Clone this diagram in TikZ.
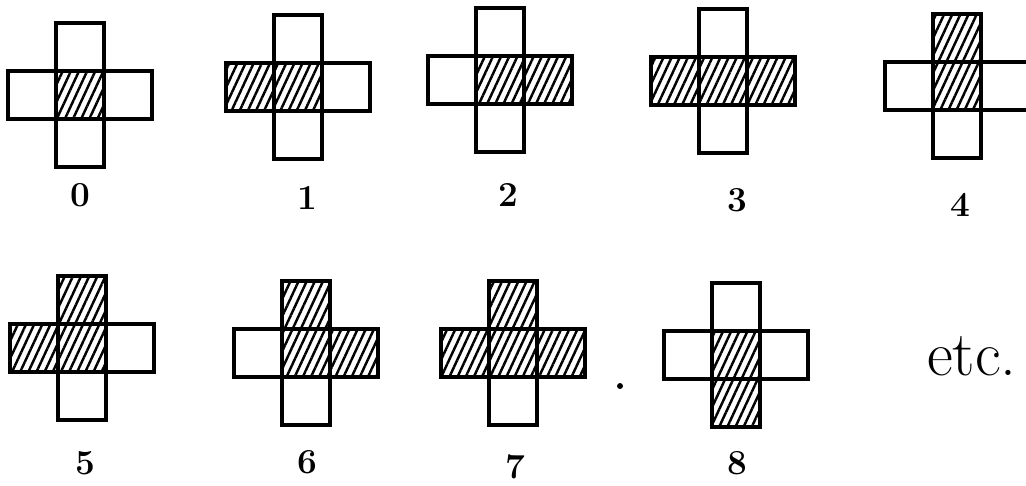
\documentclass[tikz,border=0pt]{standalone}
\usepackage{tikz}
\usetikzlibrary{positioning,patterns.meta}

\tikzset{
  cell/.style={draw, line width=1.9pt, minimum size=0.96cm, inner sep=0pt, outer sep=0pt},
  hatch/.style={pattern={Lines[angle=65, distance=4.2pt, line width=1.4pt]}},
  bare/.style={},
  digit/.style={font=\fontsize{20}{22}\selectfont\bfseries},
}

% one plus of five cells: name, x, y, left, right, up, down
\newcommand{\crossfig}[7]{%
  \node[cell, hatch] (#1c) at (#2,#3) {};          % middle cell
  \node[cell, #4, left=0pt of #1c] (#1l) {};      % left cell
  \node[cell, #5, right=0pt of #1c] (#1r) {};     % right cell
  \node[cell, #6, above=0pt of #1c] (#1u) {};     % upper cell
  \node[cell, #7, below=0pt of #1c] (#1d) {};     % lower cell
}

\begin{document}
\begin{tikzpicture}[x=0.02cm, y=-0.02cm]

        % Fix page to the picture size
        \useasboundingbox (0,0) rectangle (1026,485);

        % First row
        \crossfig{a}{80}{95}{bare}{bare}{bare}{bare}      % 0
        \crossfig{b}{298}{87}{hatch}{bare}{bare}{bare}    % 1
        \crossfig{c}{500}{80}{bare}{hatch}{bare}{bare}    % 2
        \crossfig{d}{723}{81}{hatch}{hatch}{bare}{bare}   % 3
        \crossfig{e}{957}{86}{bare}{bare}{hatch}{bare}    % 4

        % Second row
        \crossfig{f}{82}{348}{hatch}{bare}{hatch}{bare}   % 5
        \crossfig{g}{306}{353}{bare}{hatch}{hatch}{bare}  % 6
        \crossfig{h}{513}{353}{hatch}{hatch}{hatch}{bare} % 7
        \crossfig{i}{736}{355}{bare}{bare}{bare}{hatch}   % 8

        % Numbers under the crosses
        \node[digit] (n0) at (80,195) {0};
        \node[digit] (n1) at (307,198) {1};
        \node[digit] (n2) at (508,195) {2};
        \node[digit] (n3) at (737,200) {3};
        \node[digit] (n4) at (960,205) {4};
        \node[digit] (n5) at (85,463) {5};
        \node[digit] (n6) at (307,462) {6};
        \node[digit] (n7) at (515,467) {7};
        \node[digit] (n8) at (737,463) {8};

        % Stray dot and closing text
        \fill (620,386) circle (1.7pt);
        \node[font=\fontsize{36}{40}\selectfont] (etc) at (972,356) {etc.};
        \end{tikzpicture}
\end{document}
